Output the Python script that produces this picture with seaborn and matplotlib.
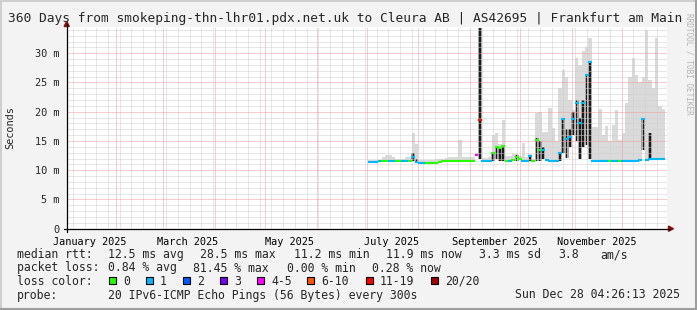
import numpy as np
import pandas as pd
import matplotlib
matplotlib.use("Agg")
import matplotlib.pyplot as plt
import matplotlib.dates as mdates
from matplotlib.lines import Line2D
from matplotlib.patches import Polygon, Rectangle
import seaborn as sns

# ---------------- data ----------------
start_date = "2025-07-03"          # first sample, one sample every 2 days
median_ms = [11.45, 11.45, 11.45, 11.5, 11.5, 11.55, 11.55, 11.55, 11.55, 11.55, 11.55, 11.55, 11.6,
             12.2, 11.4,
             11.3, 11.3, 11.3, 11.3, 11.3, 11.3, 11.4,
             11.55, 11.55, 11.55, 11.55, 11.55, 11.55, 11.55, 11.55, 11.55, 11.6,
             12.6, 18.6,
             11.6, 11.6, 11.6,
             13.0, 13.9, 13.8, 14.1,
             11.6, 11.6, 11.7, 12.3, 12.0, 11.55, 11.55, 12.4, 11.55,
             15.1, 13.5, 13.5, 11.7, 11.65, 11.65, 11.65, 13.0, 18.8, 15.3, 15.6, 18.8, 21.5, 18.0, 21.5, 26.3, 28.5,
             11.6, 11.6, 11.6, 11.6, 11.6, 11.6, 11.6, 11.6, 11.6, 11.55, 11.55, 11.55, 11.55, 11.55,
             11.7, 18.8, 11.8, 11.9, 11.9, 11.9, 11.9, 11.9]
loss_class = [1, 1, 1, 1, 0, 0, 1, 1, 0, 0, 1, 1, 0,
              1, 1,
              1, 1, 0, 0, 0, 0, 0,
              0, 0, 0, 0, 0, 0, 0, 0, 0, 0,
              4, 6,
              1, 1, 1,
              0, 0, 0, 0,
              0, 1, 0, 0, 0, 1, 1, 1, 0,
              0, 0, 1, 1, 1, 1, 1, 1, 1, 1, 1, 1, 1, 1, 1, 1, 1,
              1, 1, 1, 1, 1, 0, 1, 1, 0, 1, 1, 1, 1, 1,
              1, 1, 1, 1, 1, 1, 1, 1]
smoke_max = [11.7, 11.7, 11.8, 11.8, 12.2, 12.6, 12.6, 12.2, 12.0, 12.0, 12.0, 12.2, 12.3,
             16.3, 14.5,
             11.8, 11.8, 11.8, 11.8, 11.8, 11.9, 12.0,
             12.0, 12.1, 12.2, 12.2, 12.3, 15.2, 12.3, 12.3, 12.3, 12.3,
             13.0, 34.3,
             12.0, 12.0, 12.2,
             16.0, 16.3, 14.5, 18.6,
             12.5, 12.5, 12.8, 12.8, 12.4, 14.7, 12.3, 12.8, 12.0,
             19.7, 20.0, 16.5, 16.6, 20.6, 17.2, 15.0, 24.0, 27.1, 25.9, 22.0, 20.3, 29.2, 28.0, 30.3, 31.0, 32.6,
             17.3, 17.3, 20.4, 16.0, 17.6, 15.0, 17.8, 20.3, 15.2, 16.3, 21.5, 26.0, 29.2, 26.3,
             25.0, 26.0, 34.0, 25.5, 24.0, 32.6, 21.0, 20.5]
dense_lo = [0, 0, 0, 0, 0, 0, 0, 0, 0, 0, 0, 0, 0,
            11.6, 11.4,
            0, 0, 0, 0, 0, 0, 0,
            0, 0, 0, 0, 0, 0, 0, 0, 0, 0,
            0, 12.0,
            0, 0, 0,
            11.6, 12.0, 11.6, 11.6,
            0, 0, 0, 11.6, 0, 0, 0, 11.5, 0,
            11.6, 11.6, 12.0, 0, 0, 0, 0, 11.6, 13.0, 12.1, 14.0, 16.0, 15.0, 12.0, 14.0, 14.3, 12.0,
            0, 0, 0, 0, 0, 0, 0, 0, 0, 0, 0, 0, 0, 0,
            0, 13.5, 0, 11.9, 0, 0, 0, 0]
dense_hi = [0, 0, 0, 0, 0, 0, 0, 0, 0, 0, 0, 0, 0,
            13.0, 12.0,
            0, 0, 0, 0, 0, 0, 0,
            0, 0, 0, 0, 0, 0, 0, 0, 0, 0,
            0, 34.3,
            0, 0, 0,
            13.0, 14.0, 13.8, 14.1,
            0, 0, 0, 12.6, 0, 0, 0, 12.6, 0,
            15.5, 15.0, 14.0, 0, 0, 0, 0, 13.0, 18.8, 17.0, 17.0, 20.0, 22.0, 19.0, 22.0, 26.3, 28.5,
            0, 0, 0, 0, 0, 0, 0, 0, 0, 0, 0, 0, 0, 0,
            0, 19.0, 0, 16.3, 0, 0, 0, 0]

loss_labels = ["0", "1", "2", "3", "4-5", "6-10", "11-19", "20/20"]
loss_colors = ["#26ff00", "#00b8ff", "#0059ff", "#7e00ff", "#ff00ff", "#ff5500", "#ff0000", "#a10000"]

y_ticks = [0, 5, 10, 15, 20, 25, 30]
y_tick_labels = ["0", "5 m", "10 m", "15 m", "20 m", "25 m", "30 m"]
x_label_months = ["2025-01-16", "2025-03-16", "2025-05-16", "2025-07-16", "2025-09-16", "2025-11-16"]
x_label_texts = ["January 2025", "March 2025", "May 2025", "July 2025", "September 2025", "November 2025"]

title = "360 Days from smokeping-thn-lhr01.pdx.net.uk to Cleura AB | AS42695 | Frankfurt am Main"
legend_rows = [
    ("median rtt:", [(107.7, "12.5 ms avg"), (200.5, "28.5 ms max"), (293.5, "11.2 ms min"),
                     (386.3, "11.9 ms now"), (479.3, "3.3 ms sd"), (558.3, "3.8"), (600.0, "am/s")]),
    ("packet loss:", [(107.7, "0.84 % avg"), (193.3, "81.45 % max"), (286.7, "0.00 % min"),
                      (372.3, "0.28 % now")]),
]
probe_text = "20 IPv6-ICMP Echo Pings (56 Bytes) every 300s"
stamp_text = "Sun Dec 28 04:26:13 2025"

# ---------------- figure ----------------
W, H = 697, 310
sns.set_theme(style="white")
plt.rcParams["font.family"] = ["DejaVu Sans Mono"]
MONO = ["DejaVu Sans Mono"]

fig = plt.figure(figsize=(W / 100, H / 100), dpi=100, facecolor="#f3f3f3")

def FX(px):
    return px / W

def FY(py):
    return 1 - py / H

L, R, T, B = 66.7, 667.0, 26.7, 228.7
ax = fig.add_axes([FX(L), FY(B), (R - L) / W, (B - T) / H])
ax.set_facecolor("white")
for s in ax.spines.values():
    s.set_visible(False)

t0 = mdates.date2num(pd.Timestamp("2025-01-02 04:26:13"))
t1 = mdates.date2num(pd.Timestamp("2025-12-28 04:26:13"))
dates = pd.date_range(start_date, periods=len(median_ms), freq="2D")
xd = mdates.date2num(dates)

df = pd.DataFrame({"x": xd, "median": median_ms,
                   "loss": [loss_labels[i] for i in loss_class],
                   "smax": smoke_max, "dlo": dense_lo, "dhi": dense_hi})

# light smoke
smin = df["median"] - 0.15
ax.bar(df["x"], df["smax"] - smin, bottom=smin, width=2.0, color="#dadada",
       linewidth=0, zorder=1)
# dense smoke: grey halo + dark core
dd = df[df["dhi"] > 0]
ax.bar(dd["x"], dd["dhi"] - dd["dlo"], bottom=dd["dlo"], width=2.3, color="#8a8a8a",
       linewidth=0, zorder=1.1, alpha=0.75)
ax.bar(dd["x"], dd["dhi"] - dd["dlo"], bottom=dd["dlo"], width=1.0, color="#1a1a1a",
       linewidth=0, zorder=1.2)

# median coloured by loss
sns.scatterplot(data=df, x="x", y="median", hue="loss", hue_order=loss_labels,
                palette=dict(zip(loss_labels, loss_colors)), marker="_", s=7.5,
                linewidth=1.5, legend=False, ax=ax, zorder=3)

ax.set_xlim(t0, t1)
ax.set_ylim(0, (B - T) / 5.85)

# grid
ax.xaxis.set_major_locator(mdates.MonthLocator())
ax.xaxis.set_minor_locator(mdates.WeekdayLocator(byweekday=mdates.MO))
ax.set_yticks(y_ticks)
ax.set_yticks(np.arange(0, 35, 1), minor=True)
ax.set_axisbelow(False)
ax.grid(which="minor", color="#cfcfcf", linestyle=(0, (1, 1)), linewidth=0.72, zorder=2)
ax.grid(which="major", color="#f29a9a", linestyle=(0, (1, 1)), linewidth=0.72, zorder=2)
ax.set_xticklabels([])
ax.tick_params(axis="x", which="major", direction="out", length=2.2, width=0.72,
               color="#e07070", labelbottom=False)
ax.tick_params(axis="x", which="minor", direction="out", length=1.5, width=0.72,
               color="#b0b0b0")
ax.set_yticklabels(y_tick_labels, fontsize=7.4, family=MONO)
ax.tick_params(axis="y", which="major", direction="out", length=2.5, width=0.72,
               color="#000000", pad=2.6)
ax.tick_params(axis="y", which="minor", direction="out", length=1.5, width=0.72,
               color="#b0b0b0")
ax.set_xlabel("")
ax.set_ylabel("")

for d, txt in zip(x_label_months, x_label_texts):
    ax.text(mdates.date2num(pd.Timestamp(d)), -0.08, txt, transform=ax.get_xaxis_transform(),
            ha="center", va="baseline", fontsize=7.4, family=MONO, color="black")

# axes lines & arrows
fig.add_artist(Line2D([FX(63.5), FX(670)], [FY(B), FY(B)], color="black", lw=0.9))
fig.add_artist(Line2D([FX(L), FX(L)], [FY(231.5), FY(24)], color="black", lw=0.9))
fig.add_artist(Polygon([[FX(673.5), FY(B)], [FX(668.5), FY(B - 2.6)], [FX(668.5), FY(B + 2.6)]],
                       closed=True, color="#8b1010", transform=fig.transFigure))
fig.add_artist(Polygon([[FX(L), FY(21.3)], [FX(L - 2.6), FY(26.5)], [FX(L + 2.6), FY(26.5)]],
                       closed=True, color="#8b1010", transform=fig.transFigure))

# title and labels
fig.text(FX(345.5), FY(22), title, ha="center", va="baseline", fontsize=9.3, family=MONO)
fig.text(FX(10.5), FY(127.7), "Seconds", rotation=90, ha="center", va="center",
         fontsize=7.4, family=MONO)
fig.text(FX(689), FY(13), "RRDTOOL / TOBI OETIKER", rotation=-90, ha="center", va="top",
         fontsize=5.6, family=MONO, color="#b4b4b4")

# legend rows
LEG_FS = 8.3
base = [258.0, 271.5, 285.0, 298.5]
for (head, items), by in zip(legend_rows, base[:2]):
    fig.text(FX(16.7), FY(by), head, ha="left", va="baseline", fontsize=LEG_FS, family=MONO)
    for px, s in items:
        fig.text(FX(px), FY(by), s, ha="left", va="baseline", fontsize=LEG_FS, family=MONO)

fig.text(FX(16.7), FY(base[2]), "loss color:", ha="left", va="baseline", fontsize=LEG_FS, family=MONO)
box_x = [109.0, 145.7, 183.3, 220.0, 256.7, 306.7, 365.7, 430.7]
for bx, lab, col in zip(box_x, loss_labels, loss_colors):
    fig.add_artist(Rectangle((FX(bx), FY(284.3)), 6.8 / W, 7.2 / H, facecolor=col,
                             edgecolor="black", linewidth=0.8, transform=fig.transFigure))
    fig.text(FX(bx + 14.3), FY(base[2]), lab, ha="left", va="baseline", fontsize=LEG_FS, family=MONO)

fig.text(FX(16.7), FY(base[3]), "probe:", ha="left", va="baseline", fontsize=LEG_FS, family=MONO)
fig.text(FX(107.7), FY(base[3]), probe_text, ha="left", va="baseline", fontsize=LEG_FS, family=MONO)
fig.text(FX(680), FY(base[3]), stamp_text, ha="right", va="baseline", fontsize=LEG_FS, family=MONO)

# frame shading
fig.add_artist(Line2D([0, 1], [FY(0.5), FY(0.5)], color="#cfcfcf", lw=1.4))
fig.add_artist(Line2D([FX(0.5), FX(0.5)], [0, 1], color="#cfcfcf", lw=1.4))
fig.add_artist(Line2D([0, 1], [FY(309), FY(309)], color="#9e9e9e", lw=1.5))
fig.add_artist(Line2D([FX(696), FX(696)], [0, 1], color="#9e9e9e", lw=1.5))

fig.savefig("out.png", dpi=100, facecolor=fig.get_facecolor())
